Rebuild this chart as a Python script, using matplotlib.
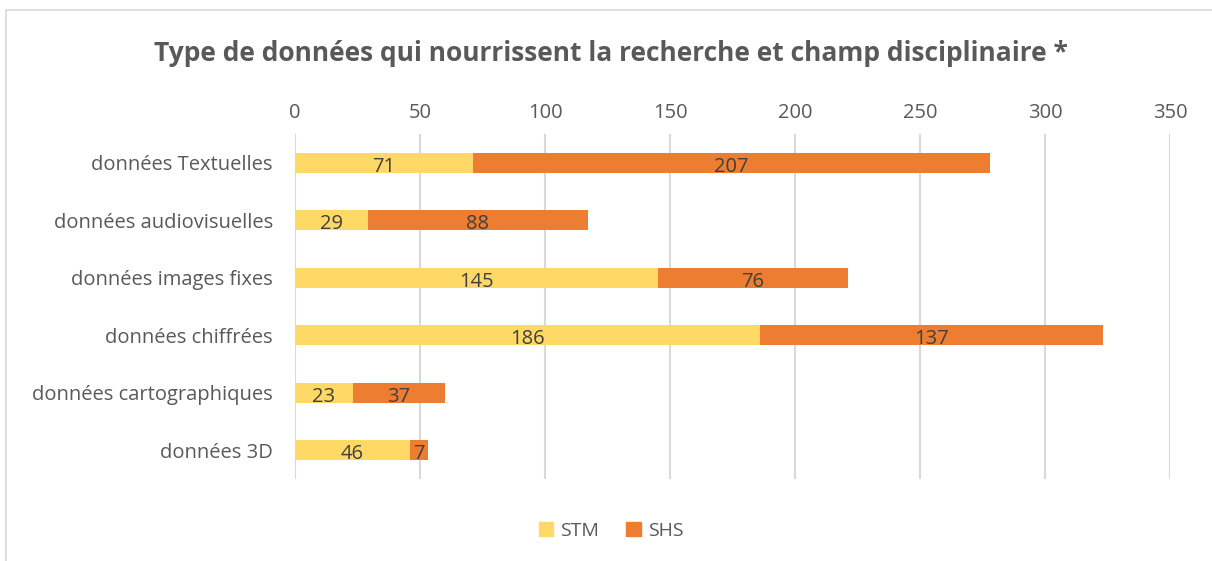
import matplotlib.pyplot as plt
from matplotlib.patches import Rectangle, Patch

categories = ["données Textuelles", "données audiovisuelles", "données images fixes",
              "données chiffrées", "données cartographiques", "données 3D"]
stm = [71, 29, 145, 186, 23, 46]
shs = [207, 88, 76, 137, 37, 7]
ticks = [0, 50, 100, 150, 200, 250, 300, 350]

plt.rcParams['font.family'] = ['Open Sans', 'DejaVu Sans']
grey = '#595959'
c_stm = '#FFD966'
c_shs = '#ED7D31'

fig = plt.figure(figsize=(12.12, 5.61), dpi=100)
# chart border (runs off the right/bottom like the screenshot)
fig.patches.append(Rectangle((6 / 1212, -0.1), 1.2, 1 - 10 / 561 + 0.1,
                             transform=fig.transFigure, fill=False,
                             edgecolor='#D9D9D9', linewidth=1.2))

ax = fig.add_axes([295 / 1212, 1 - 479 / 561, 875 / 1212, 345 / 561])
y = list(range(len(categories)))
h = 0.35
b1 = ax.barh(y, stm, height=h, color=c_stm)
b2 = ax.barh(y, shs, left=stm, height=h, color=c_shs)
for bars, vals in ((b1, stm), (b2, shs)):
    for t in ax.bar_label(bars, labels=[str(v) for v in vals], label_type='center',
                          fontsize=14.5, color='#404040'):
        t.set_y(-3)  # Excel sits the numbers a touch low

ax.set_ylim(len(categories) - 0.5, -0.5)
ax.set_xlim(0, 350)
ax.set_xticks(ticks)
ax.set_yticks(y)
ax.set_yticklabels(categories)
ax.xaxis.tick_top()
ax.tick_params(axis='both', length=0, labelsize=14.5, labelcolor=grey)
ax.tick_params(axis='x', pad=8)
ax.tick_params(axis='y', pad=16)
ax.grid(axis='x', color='#D9D9D9', linewidth=1.5)
ax.set_axisbelow(True)
for s in ax.spines.values():
    s.set_visible(False)

fig.text(611 / 1212, 1 - 54 / 561, "Type de données qui nourrissent la recherche et champ disciplinaire *",
         ha='center', va='center', fontsize=19, fontweight='bold', color=grey)

fig.legend(handles=[Patch(color=c_stm, label='STM'), Patch(color=c_shs, label='SHS')],
           loc='center', bbox_to_anchor=(611 / 1212, 1 - 531 / 561), ncol=2, frameon=False,
           fontsize=14, labelcolor=grey, handlelength=0.75, handleheight=0.75,
           handletextpad=0.35, columnspacing=1.4)

fig.savefig('out.png', dpi=100)
